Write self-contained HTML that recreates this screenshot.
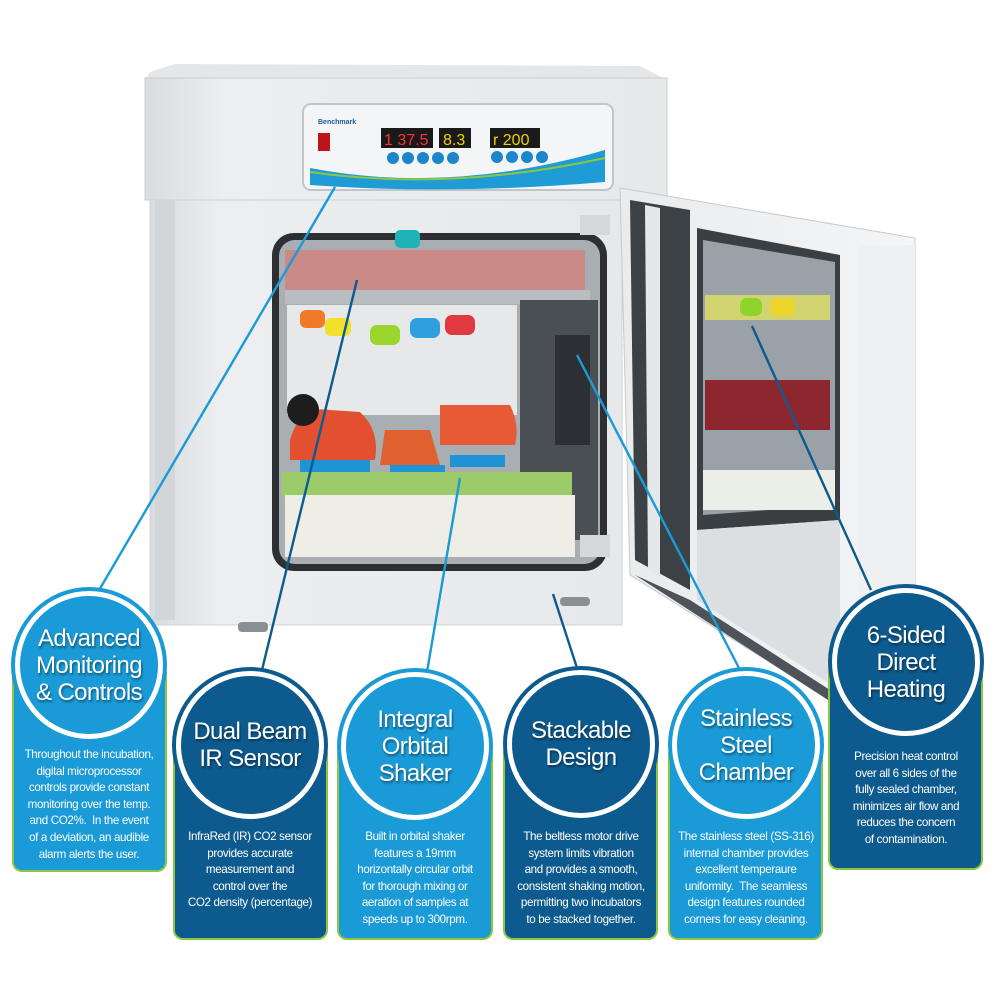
<!DOCTYPE html>
<html><head><meta charset="utf-8"><style>
*{margin:0;padding:0;box-sizing:border-box}
html,body{width:1000px;height:1000px;background:#fff;overflow:hidden;position:relative;font-family:"Liberation Sans",sans-serif}
svg.bg{position:absolute;left:0;top:0}
.box{position:absolute;border-radius:10px;border:2px solid #8dc63f;border-top:none;border-left-color:#8dc63f}
.lb{background:#1a9ad6}
.db{background:#0d5b8e}
.circ{position:absolute;width:156px;height:156px;border-radius:50%;padding:4px}
.circ .in{width:100%;height:100%;border-radius:50%;border:5px solid #fff;display:flex;align-items:center;justify-content:center;text-align:center;color:#fff;font-size:24px;line-height:27px;letter-spacing:-0.6px;text-shadow:1px 2px 2px rgba(0,0,0,.45)}
.txt{position:absolute;color:#fff;text-align:center;font-size:11.6px;line-height:16.6px;letter-spacing:-0.35px;width:156px}
</style></head><body>
<svg class="bg" width="1000" height="1000" viewBox="0 0 1000 1000">
<defs>
<linearGradient id="bd" x1="0" x2="1"><stop offset="0" stop-color="#d9dcdf"/><stop offset=".15" stop-color="#eceef0"/><stop offset="1" stop-color="#e6e8ea"/></linearGradient>
<linearGradient id="dr" x1="0" x2="1"><stop offset="0" stop-color="#e9ebed"/><stop offset="1" stop-color="#f4f5f6"/></linearGradient>
</defs>
<!-- top face -->
<polygon points="150,72 175,64 640,66 667,80 145,80" fill="#e4e6e8"/>
<!-- body -->
<rect x="145" y="78" width="522" height="122" fill="url(#bd)" stroke="#c9cdd1"/>
<rect x="150" y="200" width="472" height="425" fill="url(#bd)" stroke="#cfd3d6"/>
<rect x="155" y="200" width="20" height="420" fill="#d3d6d9"/>
<!-- control panel -->
<rect x="303" y="104" width="310" height="86" rx="8" fill="#f3f5f7" stroke="#c0c5ca" stroke-width="2"/>
<path d="M310,168 Q450,195 605,150 L605,182 Q450,195 310,185 Z" fill="#1f9bd6"/>
<path d="M310,172 Q450,192 605,158" stroke="#8dc63f" stroke-width="2" fill="none"/>
<rect x="318" y="133" width="12" height="18" fill="#c0121a"/>
<text x="318" y="124" font-size="7" fill="#1b5fa0" font-weight="bold">Benchmark</text>
<rect x="381" y="128" width="52" height="20" fill="#1a1a1a"/><text x="384" y="145" font-size="16" fill="#ff3030">1 37.5</text>
<rect x="439" y="128" width="32" height="20" fill="#1a1a1a"/><text x="443" y="145" font-size="16" fill="#f0d000">8.3</text>
<rect x="490" y="128" width="50" height="20" fill="#1a1a1a"/><text x="493" y="145" font-size="16" fill="#f0d000">r 200</text>
<g fill="#1b86cc"><circle cx="393" cy="158" r="6"/><circle cx="408" cy="158" r="6"/><circle cx="423" cy="158" r="6"/><circle cx="438" cy="158" r="6"/><circle cx="453" cy="158" r="6"/>
<circle cx="497" cy="157" r="6"/><circle cx="512" cy="157" r="6"/><circle cx="527" cy="157" r="6"/><circle cx="542" cy="157" r="6"/></g>
<!-- door opening -->
<rect x="272" y="233" width="335" height="338" rx="22" fill="#2c3033"/>
<rect x="279" y="240" width="321" height="324" rx="16" fill="#a8aeb2"/>
<rect x="285" y="250" width="300" height="45" fill="#c98a88"/>
<rect x="285" y="290" width="305" height="14" fill="#b8bdc1"/>
<rect x="287" y="305" width="230" height="110" fill="#e6e8ea"/>
<rect x="520" y="300" width="78" height="240" fill="#4a4f54"/>
<rect x="555" y="335" width="35" height="110" fill="#2c2f33"/>
<g><rect x="300" y="310" width="25" height="18" rx="6" fill="#f07a2a"/><rect x="325" y="318" width="26" height="18" rx="6" fill="#f2e02c"/><rect x="370" y="325" width="30" height="20" rx="7" fill="#9ad62c"/><rect x="410" y="318" width="30" height="20" rx="7" fill="#2f9fe0"/><rect x="445" y="315" width="30" height="20" rx="7" fill="#e03a40"/></g>
<rect x="395" y="230" width="25" height="18" rx="5" fill="#1fb3b8"/>
<path d="M290,440 Q300,405 330,410 L360,412 Q380,430 375,460 L290,460 Z" fill="#e25030"/>
<path d="M385,430 L430,430 L440,465 L380,465 Z" fill="#e06030"/>
<path d="M440,405 L510,405 Q520,425 515,445 L440,445 Z" fill="#e65a35"/>
<rect x="300" y="460" width="70" height="13" fill="#1e93d6"/><rect x="390" y="465" width="55" height="12" fill="#1e93d6"/><rect x="450" y="455" width="55" height="12" fill="#1e93d6"/>
<rect x="282" y="472" width="290" height="25" fill="#9ccc6a"/>
<rect x="285" y="495" width="290" height="62" fill="#eeeee6"/>
<circle cx="303" cy="410" r="16" fill="#1d1d1d"/>
<!-- hinges -->
<rect x="580" y="215" width="30" height="20" fill="#d5d8db"/><rect x="580" y="535" width="30" height="22" fill="#d5d8db"/>
<!-- feet -->
<rect x="238" y="622" width="30" height="10" rx="4" fill="#8a8f94"/><rect x="560" y="597" width="30" height="9" rx="4" fill="#8a8f94"/>
<!-- open door -->
<polygon points="620,188 915,238 915,650 830,700 630,575" fill="url(#dr)" stroke="#c6cace"/>
<polygon points="630,200 690,210 690,590 635,560" fill="#3c4145"/>
<polygon points="645,205 660,208 660,578 648,570" fill="#e5e8ea"/>
<polygon points="697,228 840,255 840,520 697,530" fill="#3a3f43"/>
<polygon points="703,240 835,262 835,505 703,515" fill="#9aa1a7"/>
<rect x="705" y="295" width="125" height="25" fill="#d8d86c" opacity=".9"/>
<rect x="740" y="298" width="22" height="18" rx="7" fill="#8ed42a"/><rect x="770" y="298" width="25" height="18" rx="7" fill="#eed52a"/>
<rect x="705" y="380" width="125" height="50" fill="#8e2630"/>
<rect x="703" y="470" width="132" height="40" fill="#eceee8"/>
<polygon points="697,530 840,520 840,690 697,600" fill="#dcdfe1"/>
<polygon points="635,575 690,600 830,690 828,700" fill="#4d5358"/>
<rect x="858" y="245" width="57" height="410" fill="#eef0f1"/>
<!-- connectors -->
<g stroke-width="2.4" fill="none">
<line x1="335" y1="187" x2="98" y2="592" stroke="#1a9ad6"/>
<line x1="357" y1="280" x2="262" y2="670" stroke="#0d5b8e"/>
<line x1="460" y1="478" x2="427" y2="672" stroke="#1a9ad6"/>
<line x1="553" y1="594" x2="577" y2="668" stroke="#0d5b8e"/>
<line x1="577" y1="355" x2="740" y2="670" stroke="#1a9ad6"/>
<line x1="752" y1="326" x2="871" y2="590" stroke="#0d5b8e"/>
</g>
</svg>

<!-- 1 Advanced -->
<div class="box lb" style="left:12px;top:664px;width:155px;height:208px"></div>
<div class="circ lb" style="left:11px;top:587px"><div class="in lb">Advanced<br>Monitoring<br>&amp; Controls</div></div>
<div class="txt" style="left:11px;top:747px">Throughout the incubation,<br>digital microprocessor<br>controls provide constant<br>monitoring over the temp.<br>and CO2%.&nbsp; In the event<br>of a deviation, an audible<br>alarm alerts the user.</div>

<!-- 2 Dual Beam -->
<div class="box db" style="left:173px;top:745px;width:155px;height:195px"></div>
<div class="circ db" style="left:172px;top:667px"><div class="in db">Dual Beam<br>IR Sensor</div></div>
<div class="txt" style="left:172px;top:829px">InfraRed (IR) CO2 sensor<br>provides accurate<br>measurement and<br>control over the<br>CO2 density (percentage)</div>

<!-- 3 Integral -->
<div class="box lb" style="left:337px;top:745px;width:156px;height:195px"></div>
<div class="circ lb" style="left:337px;top:668px"><div class="in lb">Integral<br>Orbital<br>Shaker</div></div>
<div class="txt" style="left:337px;top:829px">Built in orbital shaker<br>features a 19mm<br>horizontally circular orbit<br>for thorough mixing or<br>aeration of samples at<br>speeds up to 300rpm.</div>

<!-- 4 Stackable -->
<div class="box db" style="left:503px;top:744px;width:155px;height:196px"></div>
<div class="circ db" style="left:503px;top:666px"><div class="in db">Stackable<br>Design</div></div>
<div class="txt" style="left:503px;top:829px">The beltless motor drive<br>system limits vibration<br>and provides a smooth,<br>consistent shaking motion,<br>permitting two incubators<br>to be stacked together.</div>

<!-- 5 Stainless -->
<div class="box lb" style="left:668px;top:745px;width:155px;height:195px"></div>
<div class="circ lb" style="left:668px;top:667px"><div class="in lb">Stainless<br>Steel<br>Chamber</div></div>
<div class="txt" style="left:668px;top:829px">The stainless steel (SS-316)<br>internal chamber provides<br>excellent temperaure<br>uniformity.&nbsp; The seamless<br>design features rounded<br>corners for easy cleaning.</div>

<!-- 6 Six-sided -->
<div class="box db" style="left:828px;top:662px;width:155px;height:208px"></div>
<div class="circ db" style="left:828px;top:584px"><div class="in db">6-Sided<br>Direct<br>Heating</div></div>
<div class="txt" style="left:828px;top:749px">Precision heat control<br>over all 6 sides of the<br>fully sealed chamber,<br>minimizes air flow and<br>reduces the concern<br>of contamination.</div>
</body></html>
